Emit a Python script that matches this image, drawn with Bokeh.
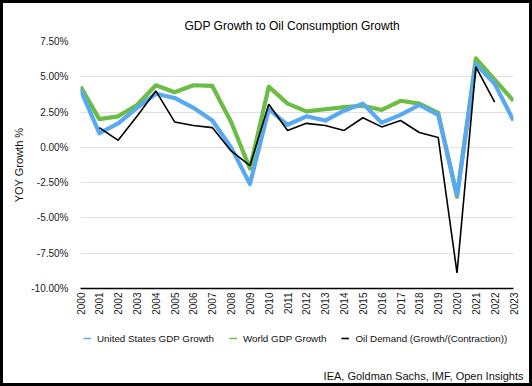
import math
from bokeh.plotting import figure
from bokeh.models import (Range1d, FixedTicker, Legend, LegendItem, Title, ColumnDataSource)
from bokeh.layouts import column
from bokeh.embed import file_html
from bokeh.resources import INLINE

# ---- data ----
years = ["2000", "2001", "2002", "2003", "2004", "2005", "2006", "2007", "2008", "2009",
         "2010", "2011", "2012", "2013", "2014", "2015", "2016", "2017", "2018", "2019",
         "2020", "2021", "2022", "2023"]
us_gdp = [4.1, 1.0, 1.7, 2.8, 3.8, 3.5, 2.8, 1.9, 0.0, -2.6,
          2.7, 1.6, 2.2, 1.9, 2.6, 3.1, 1.75, 2.3, 3.0, 2.3,
          -3.4, 5.9, 4.5, 1.9]
world_gdp = [4.3, 2.0, 2.2, 3.0, 4.4, 3.9, 4.4, 4.35, 1.8, -1.5,
             4.3, 3.1, 2.55, 2.7, 2.85, 2.95, 2.65, 3.3, 3.1, 2.45,
             -3.5, 6.3, 4.8, 3.3]
oil_demand = [float("nan"), 1.4, 0.5, 2.2, 4.0, 1.8, 1.55, 1.4, -0.25, -1.3,
              3.05, 1.2, 1.7, 1.55, 1.2, 2.1, 1.45, 1.9, 1.05, 0.7,
              -8.9, 5.7, 3.2, float("nan")]
y_ticks = [-10.0, -7.5, -5.0, -2.5, 0.0, 2.5, 5.0, 7.5]
y_tick_labels = ["-10.00%", "-7.50%", "-5.00%", "-2.50%", "0.00%", "2.50%", "5.00%", "7.50%"]

title_text = "GDP Growth to Oil Consumption Growth"
source_text = "IEA, Goldman Sachs, IMF, Open Insights"
series_names = ["United States GDP Growth", "World GDP Growth", "Oil Demand (Growth/(Contraction))"]

BLUE = "#58a9f0"
GREEN = "#6cbd45"
BLACK = "#000000"
FONT = "Liberation Sans"

idx = list(range(len(years)))
src = ColumnDataSource(dict(x=idx, us=us_gdp, world=world_gdp, oil=oil_demand))

W = 526
H1 = 316
H2 = 64

# ---------------- main chart ----------------
p = figure(width=W, height=H1, output_backend="svg", toolbar_location=None,
           x_range=Range1d(0, len(years) - 1), y_range=Range1d(-10, 7.5),
           min_border_left=77, min_border_right=16, min_border_top=38, min_border_bottom=31)

p.title.text = title_text
p.title.align = "left"
p.title.offset = 104
p.title.standoff = 18
p.title.text_font = FONT
p.title.text_font_size = "12px"
p.title.text_font_style = "normal"
p.title.text_color = "#000000"

p.line("x", "world", source=src, line_color=GREEN, line_width=4.2, line_join="round")
p.line("x", "us", source=src, line_color=BLUE, line_width=4.2, line_join="round")
p.line("x", "oil", source=src, line_color=BLACK, line_width=1.6)

p.xaxis.ticker = FixedTicker(ticks=idx)
p.xaxis.major_label_overrides = {i: y for i, y in zip(idx, years)}
p.xaxis.major_label_orientation = math.pi / 2
p.xaxis.major_tick_line_color = None
p.xaxis.major_tick_out = 0
p.xaxis.major_tick_in = 0
p.xaxis.minor_tick_line_color = None
p.xaxis.minor_tick_out = 0
p.xaxis.axis_line_color = "#000000"
p.xaxis.axis_line_width = 1.5
p.xaxis.major_label_standoff = 4
p.xaxis.major_label_text_font = FONT
p.xaxis.major_label_text_font_size = "10px"
p.xaxis.major_label_text_color = "#222222"

p.yaxis.ticker = FixedTicker(ticks=y_ticks)
p.yaxis.major_label_overrides = {t: l for t, l in zip(y_ticks, y_tick_labels)}
p.yaxis.major_tick_line_color = None
p.yaxis.major_tick_out = 0
p.yaxis.major_tick_in = 0
p.yaxis.minor_tick_line_color = None
p.yaxis.minor_tick_out = 0
p.yaxis.axis_line_color = None
p.yaxis.major_label_standoff = 12
p.yaxis.major_label_text_font = FONT
p.yaxis.major_label_text_font_size = "10px"
p.yaxis.major_label_text_color = "#222222"
p.yaxis.axis_label = "YOY Growth %"
p.yaxis.axis_label_text_font = FONT
p.yaxis.axis_label_text_font_size = "11px"
p.yaxis.axis_label_text_font_style = "normal"
p.yaxis.axis_label_text_color = "#111111"
p.yaxis.axis_label_standoff = 3

p.xgrid.grid_line_color = None
p.ygrid.ticker = FixedTicker(ticks=y_ticks)
p.ygrid.grid_line_color = "#e2e2e2"
p.ygrid.grid_line_width = 1
p.outline_line_color = None
p.border_fill_color = "white"

# ---------------- legend + source strip ----------------
# the strip's x-range sits away from the data, so its lines only feed the legend glyphs
p2 = figure(width=W, height=H2, output_backend="svg", toolbar_location=None,
            x_range=Range1d(1000, 1000 + W), y_range=Range1d(0, H2),
            x_axis_location=None, y_axis_location=None,
            min_border_left=0, min_border_right=0, min_border_top=0, min_border_bottom=0)
p2.grid.grid_line_color = None
p2.outline_line_color = None
p2.border_fill_color = "white"

l_us = p2.line("x", "us", source=src, line_color=BLUE, line_width=1.5)
l_w = p2.line("x", "world", source=src, line_color=GREEN, line_width=1.5)
l_oil = p2.line("x", "oil", source=src, line_color=BLACK, line_width=1.6)

legend = Legend(items=[LegendItem(label=series_names[0], renderers=[l_us]),
                       LegendItem(label=series_names[1], renderers=[l_w]),
                       LegendItem(label=series_names[2], renderers=[l_oil])],
                orientation="horizontal", location="top_left",
                glyph_width=8, glyph_height=32, label_height=32, label_standoff=6,
                spacing=15, padding=0, margin=3,
                border_line_color=None, background_fill_alpha=0,
                label_text_font=FONT, label_text_font_size="9.8px", label_text_color="#111111")
p2.add_layout(legend, "center")

p2.add_layout(Title(text=source_text, align="right", offset=-10, standoff=4,
                    text_font=FONT, text_font_size="11px", text_font_style="normal",
                    text_color="#111111"), "below")

layout = column(p, p2, spacing=0, styles={"border": "3px solid black"})

open("out.html", "w").write(file_html(layout, INLINE))
